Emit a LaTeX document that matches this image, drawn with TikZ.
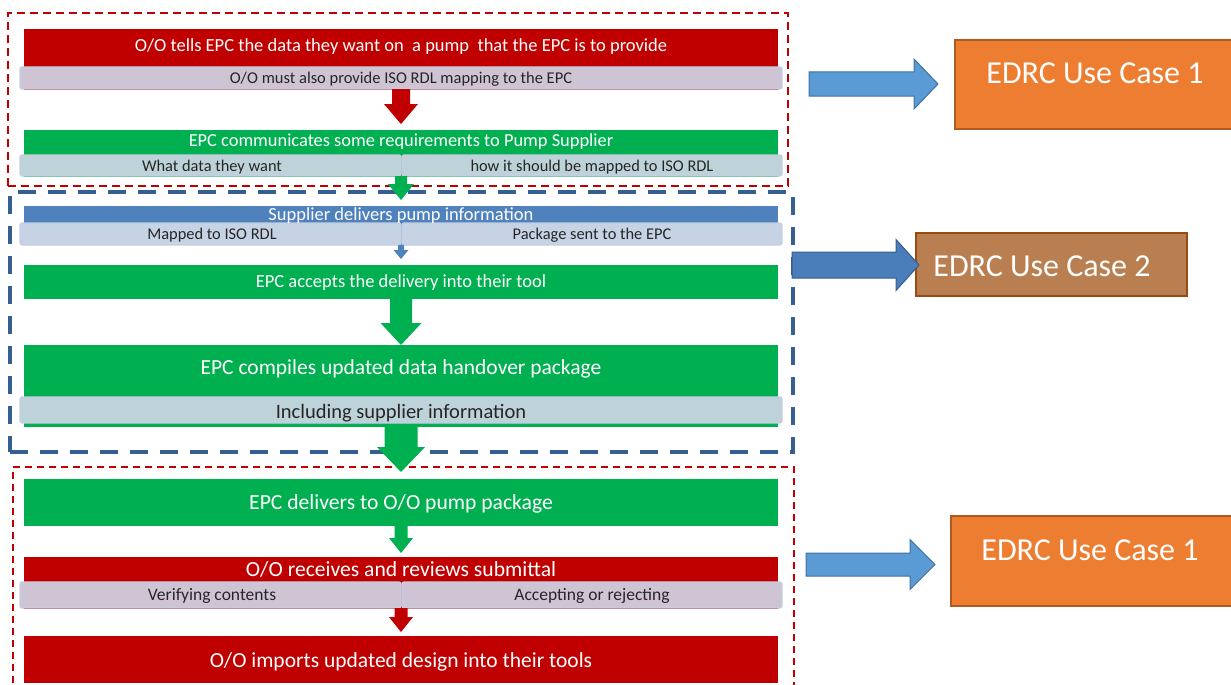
\documentclass[tikz,border=0pt]{standalone}
\usepackage{fontspec}
\setmainfont{Carlito}
\usetikzlibrary{calc}
\definecolor{ored}{HTML}{C00000}
\definecolor{ogreen}{HTML}{00B050}
\definecolor{oblue}{HTML}{4F81BD}
\definecolor{lav}{HTML}{CFC4D4}
\definecolor{subedge}{HTML}{C5CEE2}
\definecolor{gsub}{HTML}{BED3D9}
\definecolor{bsub}{HTML}{C5D3E5}
\definecolor{orangef}{HTML}{ED7D31}
\definecolor{oranged}{HTML}{AE5A21}
\definecolor{brownf}{HTML}{B97F51}
\definecolor{brownd}{HTML}{9C4A14}
\definecolor{alight}{HTML}{5B9BD5}
\definecolor{alightd}{HTML}{41719C}
\definecolor{adark}{HTML}{4A7EBB}
\definecolor{adarkd}{HTML}{385D8A}
\definecolor{dashblue}{HTML}{355E91}
\definecolor{subtext}{HTML}{262626}
\newcommand\boxat[6]{\node[#6, anchor=north west, inner sep=0pt, outer sep=0pt, minimum width={(#4-#2)*1pt}, minimum height={(#5-#3)*1pt}] (#1) at (#2,#3) {};}
\newcommand\vblk[6]{\path[#6] let \p1=(#1), \p2=(#2) in (\x1-#3pt,\y1) -- (\x1+#3pt,\y1) -- (\x1+#3pt,\y2+#5pt) -- (\x1+#4pt,\y2+#5pt) -- (\x1,\y2) -- (\x1-#4pt,\y2+#5pt) -- (\x1-#3pt,\y2+#5pt) -- cycle;}
\newcommand\hblk[6]{\path[#6] let \p1=(#1), \p2=(#2) in (\x1,\y1+#3pt) -- (\x2-#5pt,\y1+#3pt) -- (\x2-#5pt,\y1+#4pt) -- (\x2,\y1) -- (\x2-#5pt,\y1-#4pt) -- (\x2-#5pt,\y1-#3pt) -- (\x1,\y1-#3pt) -- cycle;}
\newcommand\fsz[1]{\fontsize{#1}{#1}\selectfont}
\tikzset{
  mainbar/.style={draw=none},
  subbar/.style={draw=subedge, line width=1.2pt, rounded corners=2pt},
  wtxt/.style={inner sep=0pt, anchor=base, text=white},
  dtxt/.style={inner sep=0pt, anchor=base, text=subtext},
  ucbox/.style={line width=1.5pt},
}
\begin{document}
\begin{tikzpicture}[x=1pt,y=-1pt]
\useasboundingbox (0,0) rectangle (1231,685);
% group frames
\boxat{g1}{8}{13}{788}{186}{draw=ored, line width=2pt, dash pattern=on 8pt off 5pt}
\boxat{g2}{10}{192}{793}{452}{draw=dashblue, line width=4pt, dash pattern=on 18pt off 12pt}
\boxat{g3}{13}{467}{794}{700}{draw=ored, line width=2pt, dash pattern=on 7pt off 5pt}
% row 1
\boxat{b1}{24}{29}{778}{90}{mainbar, fill=ored}
\boxat{s1}{20}{67}{782}{89}{subbar, fill=lav}
\node[wtxt, font=\fsz{18.5}] (t1) at (401,51.5) {O/O tells EPC the data they want on\ \ a pump\ \ that the EPC is to provide};
\node[dtxt, font=\fsz{16.5}] (u1) at (401,83.3) {O/O must also provide ISO RDL mapping to the EPC};
% row 2
\boxat{b2}{24}{130}{778}{177}{mainbar, fill=ogreen}
\boxat{s2a}{20}{155}{401}{176}{subbar, fill=gsub}
\boxat{s2b}{402}{155}{782}{176}{subbar, fill=gsub}
\node[wtxt, font=\fsz{18.4}] (t2) at (401,146.7) {EPC communicates some requirements to Pump Supplier};
\node[dtxt, font=\fsz{16.4}] (u2a) at (212,171) {What data they want};
\node[dtxt, font=\fsz{16.4}] (u2b) at (592,171) {how it should be mapped to ISO RDL};
% row 3
\boxat{b3}{24}{206}{778}{245}{mainbar, fill=oblue}
\boxat{s3a}{20}{223}{401}{245}{subbar, fill=bsub}
\boxat{s3b}{402}{223}{782}{245}{subbar, fill=bsub}
\node[wtxt, font=\fsz{18.5}] (t3) at (401,220) {Supplier delivers pump information};
\node[dtxt, font=\fsz{16.4}] (u3a) at (212,239.3) {Mapped to ISO RDL};
\node[dtxt, font=\fsz{16.4}] (u3b) at (592,239.3) {Package sent to the EPC};
% row 4
\boxat{b4}{24}{265}{778}{299}{mainbar, fill=ogreen}
\node[wtxt, font=\fsz{18.5}] (t4) at (401,287.3) {EPC accepts the delivery into their tool};
% row 5
\boxat{b5}{24}{345}{778}{427}{mainbar, fill=ogreen}
\boxat{s5}{20}{397}{782}{423}{subbar, fill=gsub}
\node[wtxt, font=\fsz{21.5}] (t5) at (401,374.3) {EPC compiles updated data handover package};
\node[dtxt, font=\fsz{20.5}] (u5) at (401,418.3) {Including supplier information};
% row 6
\boxat{b6}{24}{479}{778}{526}{mainbar, fill=ogreen}
\node[wtxt, font=\fsz{21.6}] (t6) at (401,509) {EPC delivers to O/O pump package};
% row 7
\boxat{b7}{24}{557}{778}{609}{mainbar, fill=ored}
\boxat{s7a}{20}{582}{401}{608}{subbar, fill=lav}
\boxat{s7b}{402}{582}{782}{608}{subbar, fill=lav}
\node[wtxt, font=\fsz{21.6}] (t7) at (401,576.7) {O/O receives and reviews submittal};
\node[dtxt, font=\fsz{17.5}] (u7a) at (212,600.7) {Verifying contents};
\node[dtxt, font=\fsz{17.5}] (u7b) at (592,600.7) {Accepting or rejecting};
% row 8
\boxat{b8}{24}{636}{778}{683}{mainbar, fill=ored}
\node[wtxt, font=\fsz{21.5}] (t8) at (401,667.7) {O/O imports updated design into their tools};
% flow arrows
\vblk{s1.south}{$(b2.north)+(0,-6)$}{9}{17}{20}{fill=ored}
\vblk{s2a.south east}{$(b3.north)+(0,-6)$}{6}{13}{16}{fill=ogreen}
\vblk{s3a.south east}{$(b4.north)+(0,-6)$}{3}{7.5}{9}{fill=oblue}
\vblk{b4.south}{b5.north}{11}{20.5}{22}{fill=ogreen}
\vblk{b5.south}{$(b6.north)+(0,-7)$}{16.5}{24}{25}{fill=ogreen}
\vblk{b6.south}{$(b7.north)+(0,-4)$}{6.5}{12}{15}{fill=ogreen}
\vblk{s7a.south east}{$(b8.north)+(0,-4)$}{6.5}{12}{15}{fill=ored}
% use case boxes
\boxat{uc1}{955}{40}{1233}{129}{ucbox, fill=orangef, draw=oranged}
\boxat{uc2}{916}{233}{1187}{296}{ucbox, fill=brownf, draw=brownd}
\boxat{uc3}{951}{516}{1233}{606}{ucbox, fill=orangef, draw=oranged}
\node[wtxt, font=\fsz{32}] (v1) at (1095,83.3) {EDRC Use Case 1};
\node[wtxt, font=\fsz{32}] (v2) at (1042,276) {EDRC Use Case 2};
\node[wtxt, font=\fsz{32}] (v3) at (1090,560) {EDRC Use Case 1};
% pointer arrows
\coordinate (r1s) at (809,84);
\coordinate (r1e) at (938,84);
\coordinate (r2s) at (792,265);
\coordinate (r2e) at (919,265);
\coordinate (r3s) at (806,564.5);
\coordinate (r3e) at (935,564.5);
\hblk{r1s}{r1e}{12}{25}{24}{fill=alight, draw=alightd, line width=1pt}
\hblk{r2s}{r2e}{13}{25.5}{23}{fill=adark, draw=adarkd, line width=1pt}
\hblk{r3s}{r3e}{11.5}{25}{25}{fill=alight, draw=alightd, line width=1pt}
\end{tikzpicture}
\end{document}
